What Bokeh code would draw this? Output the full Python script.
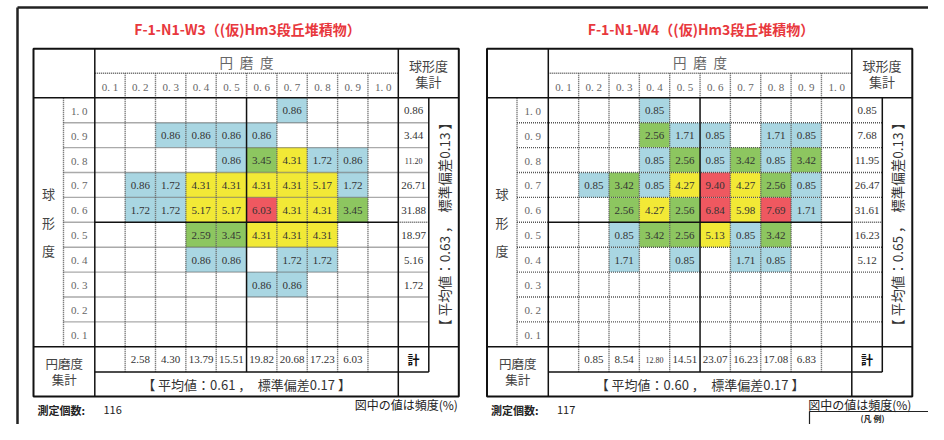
import math
from bokeh.plotting import figure
from bokeh.models import Range1d, ColumnDataSource
from bokeh.core.properties import value
from bokeh.embed import file_html
from bokeh.resources import INLINE

# ---------------- data ----------------
roundness_labels = ["0. 1", "0. 2", "0. 3", "0. 4", "0. 5", "0. 6", "0. 7", "0. 8", "0. 9", "1. 0"]
sphericity_labels = ["1. 0", "0. 9", "0. 8", "0. 7", "0. 6", "0. 5", "0. 4", "0. 3", "0. 2", "0. 1"]

w3_title = "F-1-N1-W3（(仮)Hm3段丘堆積物）"
w3_freq = [
    [None, None, None, None, None, None, 0.86, None, None, None],
    [None, None, 0.86, 0.86, 0.86, 0.86, None, None, None, None],
    [None, None, None, None, 0.86, 3.45, 4.31, 1.72, 0.86, None],
    [None, 0.86, 1.72, 4.31, 4.31, 4.31, 4.31, 5.17, 1.72, None],
    [None, 1.72, 1.72, 5.17, 5.17, 6.03, 4.31, 4.31, 3.45, None],
    [None, None, None, 2.59, 3.45, 4.31, 4.31, 4.31, None, None],
    [None, None, None, 0.86, 0.86, None, 1.72, 1.72, None, None],
    [None, None, None, None, None, 0.86, 0.86, None, None, None],
    [None, None, None, None, None, None, None, None, None, None],
    [None, None, None, None, None, None, None, None, None, None],
]
w3_row_total = [0.86, 3.44, 11.20, 26.71, 31.88, 18.97, 5.16, 1.72, None, None]
w3_col_total = [None, 2.58, 4.30, 13.79, 15.51, 19.82, 20.68, 17.23, 6.03, None]
w3_sph_mean, w3_sph_sd = 0.63, 0.13
w3_rnd_mean, w3_rnd_sd = 0.61, 0.17
w3_count = 116

w4_title = "F-1-N1-W4（(仮)Hm3段丘堆積物）"
w4_freq = [
    [None, None, None, 0.85, None, None, None, None, None, None],
    [None, None, None, 2.56, 1.71, 0.85, None, 1.71, 0.85, None],
    [None, None, None, 0.85, 2.56, 0.85, 3.42, 0.85, 3.42, None],
    [None, 0.85, 3.42, 0.85, 4.27, 9.40, 4.27, 2.56, 0.85, None],
    [None, None, 2.56, 4.27, 2.56, 6.84, 5.98, 7.69, 1.71, None],
    [None, None, 0.85, 3.42, 2.56, 5.13, 0.85, 3.42, None, None],
    [None, None, 1.71, None, 0.85, None, 1.71, 0.85, None, None],
    [None, None, None, None, None, None, None, None, None, None],
    [None, None, None, None, None, None, None, None, None, None],
    [None, None, None, None, None, None, None, None, None, None],
]
w4_row_total = [0.85, 7.68, 11.95, 26.47, 31.61, 16.23, 5.12, None, None, None]
w4_col_total = [None, 0.85, 8.54, 12.80, 14.51, 23.07, 16.23, 17.08, 6.83, None]
w4_sph_mean, w4_sph_sd = 0.65, 0.13
w4_rnd_mean, w4_rnd_sd = 0.60, 0.17
w4_count = 117

# ---------------- style / layout ----------------
BLUE, GREEN, YELLOW, RED = "#A9D6E2", "#8DC660", "#F2E936", "#EF5860"
JP = value("Noto Sans CJK JP")
SERIF = value("Liberation Serif")

TOP, H1, BODY, RH = 48.3, 72.7, 97.3, 24.9
BOT1 = BODY + 10 * RH
BOT2, BOT3 = 371.4, 396.0
SUB, GL, CW = 30.0, 61.3, 30.35
GR = GL + 10 * CW
TC = GR + 30.5
TR = TC + 30.0


def cell_color(v):
    if v < 2:
        return BLUE
    if v < 4:
        return GREEN
    if v < 6:
        return YELLOW
    return RED


p = figure(width=928, height=424, x_range=Range1d(0, 928), y_range=Range1d(424, 0),
           output_backend="svg", toolbar_location=None, min_border=0,
           x_axis_type=None, y_axis_type=None)
p.grid.visible = False
p.outline_line_color = None


def txt(xs, ys, texts, size, color="#333", font=JP, align="center", style="normal", angle=0.0, baseline="middle"):
    src = ColumnDataSource(dict(x=list(xs), y=list(ys), t=list(texts)))
    p.text(x="x", y="y", text="t", source=src, text_font=font, text_font_size=size,
           text_color=color, text_align=align, text_baseline=baseline,
           text_font_style=style, angle=angle)


def panel(ox, title, freq, row_tot, col_tot, sm, ssd, rm, rsd, count, small_row, small_col):
    # coloured cells
    L, R, T, B, C = [], [], [], [], []
    vx, vy, vt = [], [], []
    for i, row in enumerate(freq):
        for j, v in enumerate(row):
            if v is None:
                continue
            l = ox + GL + j * CW
            t = BODY + i * RH
            L.append(l); R.append(l + CW); T.append(t); B.append(t + RH); C.append(cell_color(v))
            vx.append(l + CW / 2); vy.append(t + RH / 2 + 0.5); vt.append("%.2f" % v)
    p.quad(left=L, right=R, top=T, bottom=B, fill_color=C, line_color=None)

    # dotted grid
    dx0, dy0, dx1, dy1 = [], [], [], []
    sx0, sy0, sx1, sy1 = [], [], [], []
    dx0.append(ox + GL); dx1.append(ox + GR); dy0.append(H1); dy1.append(H1)
    for i in range(1, 10):
        y = BODY + i * RH
        if i == 5:
            dx0 += [ox + SUB, ox + GR]; dx1 += [ox + GL, ox + TC]; dy0 += [y, y]; dy1 += [y, y]
            sx0.append(ox + GL); sx1.append(ox + GR); sy0.append(y); sy1.append(y)
        else:
            dx0.append(ox + SUB); dx1.append(ox + TC); dy0.append(y); dy1.append(y)
    dx0.append(ox + SUB); dx1.append(ox + SUB); dy0.append(BODY); dy1.append(BOT1)
    for k in range(1, 10):
        x = ox + GL + k * CW
        if k == 5:
            dx0.append(x); dx1.append(x); dy0.append(H1); dy1.append(BODY)
            sx0.append(x); sx1.append(x); sy0.append(BODY); sy1.append(BOT2)
        else:
            dx0.append(x); dx1.append(x); dy0.append(H1); dy1.append(BOT2)
    p.segment(x0=dx0, y0=dy0, x1=dx1, y1=dy1, line_color="#555", line_width=1.4, line_dash="1 1")

    # solid lines
    sx0 += [ox, ox, ox + GL, ox + GL, ox + GR, ox + TC]
    sx1 += [ox + TR, ox + TR, ox + TC, ox + GL, ox + GR, ox + TC]
    sy0 += [BODY, BOT1, BOT2, TOP, TOP, BODY]
    sy1 += [BODY, BOT1, BOT2, BOT3, BOT3, BOT2]
    p.segment(x0=sx0, y0=sy0, x1=sx1, y1=sy1, line_color="#111", line_width=1.5)
    p.quad(left=[ox], right=[ox + TR], top=[TOP], bottom=[BOT3], fill_color=None,
           line_color="#111", line_width=2)

    # title
    txt([ox + 214], [28], [title], "14px", color="#E8383D", style="bold")
    # headers
    txt([ox + (GL + GR) / 2], [(TOP + H1) / 2 + 0.5], ["円\u2002磨\u2002度"], "13.5px", color="#666")
    txt([ox + (GR + TR) / 2] * 2, [65, 81], ["球形度", "集計"], "13px", color="#444")
    txt([ox + GL + (j + 0.5) * CW for j in range(10)], [(H1 + BODY) / 2 + 1] * 10,
        roundness_labels, "11px", color="#666", font=SERIF)
    txt([ox + (SUB + GL) / 2] * 10, [BODY + (i + 0.5) * RH + 0.5 for i in range(10)],
        sphericity_labels, "11px", color="#666", font=SERIF)
    txt([ox + SUB / 2] * 3, [193, 222, 250], ["球", "形", "度"], "13px", color="#444")

    # cell values
    txt(vx, vy, vt, "11px", color="#333", font=SERIF)

    # row totals
    rx, ry, rt, srx, sry, srt = [], [], [], [], [], []
    for i, v in enumerate(row_tot):
        if v is None:
            continue
        if i in small_row:
            srx.append(ox + (GR + TC) / 2); sry.append(BODY + (i + 0.5) * RH + 0.5); srt.append("%.2f" % v)
        else:
            rx.append(ox + (GR + TC) / 2); ry.append(BODY + (i + 0.5) * RH + 0.5); rt.append("%.2f" % v)
    txt(rx, ry, rt, "11px", color="#333", font=SERIF)
    if srt:
        txt(srx, sry, srt, "8px", color="#333", font=SERIF)

    # column totals
    cx, cy, ct, scx, scy, sct = [], [], [], [], [], []
    for j, v in enumerate(col_tot):
        if v is None:
            continue
        if j in small_col:
            scx.append(ox + GL + (j + 0.5) * CW); scy.append((BOT1 + BOT2) / 2 + 0.5); sct.append("%.2f" % v)
        else:
            cx.append(ox + GL + (j + 0.5) * CW); cy.append((BOT1 + BOT2) / 2 + 0.5); ct.append("%.2f" % v)
    txt(cx, cy, ct, "11px", color="#333", font=SERIF)
    if sct:
        txt(scx, scy, sct, "8px", color="#333", font=SERIF)

    # sphericity stats (vertical)
    txt([ox + (TC + TR) / 2], [(BODY + BOT1) / 2 + 2],
        ["【 平均値：%.2f ，　標準偏差%.2f 】" % (sm, ssd)], "13.5px", color="#333", angle=math.pi / 2)
    # bottom labels
    txt([ox + GL / 2] * 2, [363, 379], ["円磨度", "集計"], "12.5px", color="#444")
    txt([ox + (GR + TC) / 2], [(BOT1 + BOT2) / 2], ["計"], "12px", color="#111", style="bold")
    txt([ox + (GL + GR) / 2], [(BOT2 + BOT3) / 2 + 0.5],
        ["【 平均値：%.2f ，　標準偏差%.2f 】" % (rm, rsd)], "13px", color="#333")
    # footer
    txt([ox + 4], [409], ["測定個数:"], "11px", color="#222", align="left", style="bold")
    txt([ox + 70], [409], ["%d" % count], "11px", color="#222", align="left")
    txt([ox + TR - 1], [404], ["図中の値は頻度(%)"], "12px", color="#222", align="right")


# page frame
p.segment(x0=[17, 17], y0=[7, 7], x1=[928, 17], y1=[7, 424], line_color="#222", line_width=2.5)

panel(33.0, w3_title, w3_freq, w3_row_total, w3_col_total, w3_sph_mean, w3_sph_sd,
      w3_rnd_mean, w3_rnd_sd, w3_count, small_row={2}, small_col=set())
panel(486.5, w4_title, w4_freq, w4_row_total, w4_col_total, w4_sph_mean, w4_sph_sd,
      w4_rnd_mean, w4_rnd_sd, w4_count, small_row=set(), small_col={3})

# legend box (bottom right)
p.quad(left=[809], right=[935], top=[411], bottom=[445], fill_color=None, line_color="#222", line_width=1.2)
txt([872], [418], ["(凡 例)"], "8px", color="#222", style="bold")

open("out.html", "w").write(file_html(p, INLINE))
